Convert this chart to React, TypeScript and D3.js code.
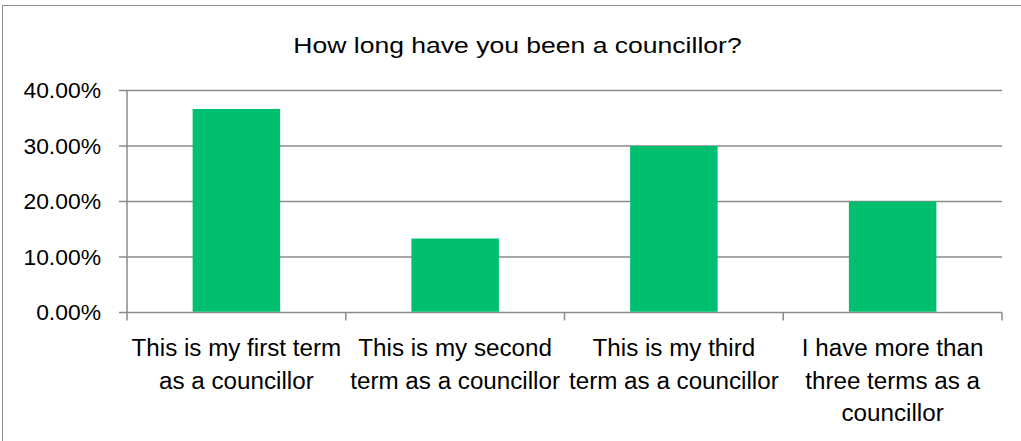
import React from "react";
import * as d3 from "d3";

const title = "How long have you been a councillor?";
const categories = ["first", "second", "third", "more"];
const categoryLines = [
  ["This is my first term", "as a councillor"],
  ["This is my second", "term as a councillor"],
  ["This is my third", "term as a councillor"],
  ["I have more than", "three terms as a", "councillor"],
];
const values = [0.3667, 0.1333, 0.3, 0.2];
const yTicks = [0, 0.1, 0.2, 0.3, 0.4];

const W = 1021;
const H = 441;
const plot = { left: 127, right: 1002, top: 90.5, bottom: 312.5 };
const FONT = "'Liberation Sans', Arial, sans-serif";
const GRID = "#8a8a8a";

export default function App() {
  const x = d3
    .scaleBand<string>()
    .domain(categories)
    .range([plot.left, plot.right])
    .paddingInner(0.6)
    .paddingOuter(0.3);
  const y = d3.scaleLinear().domain([0, 0.4]).range([plot.bottom, plot.top]);
  const step = x.step();
  const x0 = plot.left;
  const fmt = (v: number) => (v * 100).toFixed(2) + "%";

  return (
    <svg
      width={W}
      height={H}
      style={{ position: "absolute", left: 0, top: 0, display: "block" }}
      fontFamily={FONT}
    >
      <rect x={0} y={0} width={W} height={H} fill="#fff" />
      <rect x={2.5} y={5.5} width={W + 10} height={H + 10} fill="none" stroke="#8c8c8c" strokeWidth={1} />
      <text transform={`translate(517.5,53) scale(1.19,1)`} textAnchor="middle" fontSize={22.3} fill="#000">
        {title}
      </text>
      {yTicks.map((t) => (
        <g key={t}>
          <line x1={plot.left - 8} x2={plot.right} y1={y(t)} y2={y(t)} stroke={GRID} strokeWidth={1.5} />
          <text transform={`translate(101,${y(t) + 7.5}) scale(1.04,1)`} textAnchor="end" fontSize={22} fill="#000">
            {fmt(t)}
          </text>
        </g>
      ))}
      <line x1={plot.left} x2={plot.left} y1={plot.top} y2={plot.bottom + 8} stroke={GRID} strokeWidth={1.5} />
      {categories.map((c, i) => (
        <line
          key={"t" + c}
          x1={x0 + (i + 1) * step}
          x2={x0 + (i + 1) * step}
          y1={plot.bottom}
          y2={plot.bottom + 8}
          stroke={GRID}
          strokeWidth={1.5}
        />
      ))}
      {categories.map((c, i) => (
        <rect
          key={c}
          x={x(c)}
          y={y(values[i])}
          width={x.bandwidth()}
          height={y(0) - y(values[i]) - 0.75}
          fill="#00BF6F"
        />
      ))}
      {categories.map((c, i) =>
        categoryLines[i].map((line, j) => (
          <text
            key={c + j}
            transform={`translate(${(x(c) as number) + x.bandwidth() / 2},${356 + j * 32.5}) scale(1.03,1)`}
            textAnchor="middle"
            fontSize={23.5}
            fill="#000"
          >
            {line}
          </text>
        ))
      )}
    </svg>
  );
}
